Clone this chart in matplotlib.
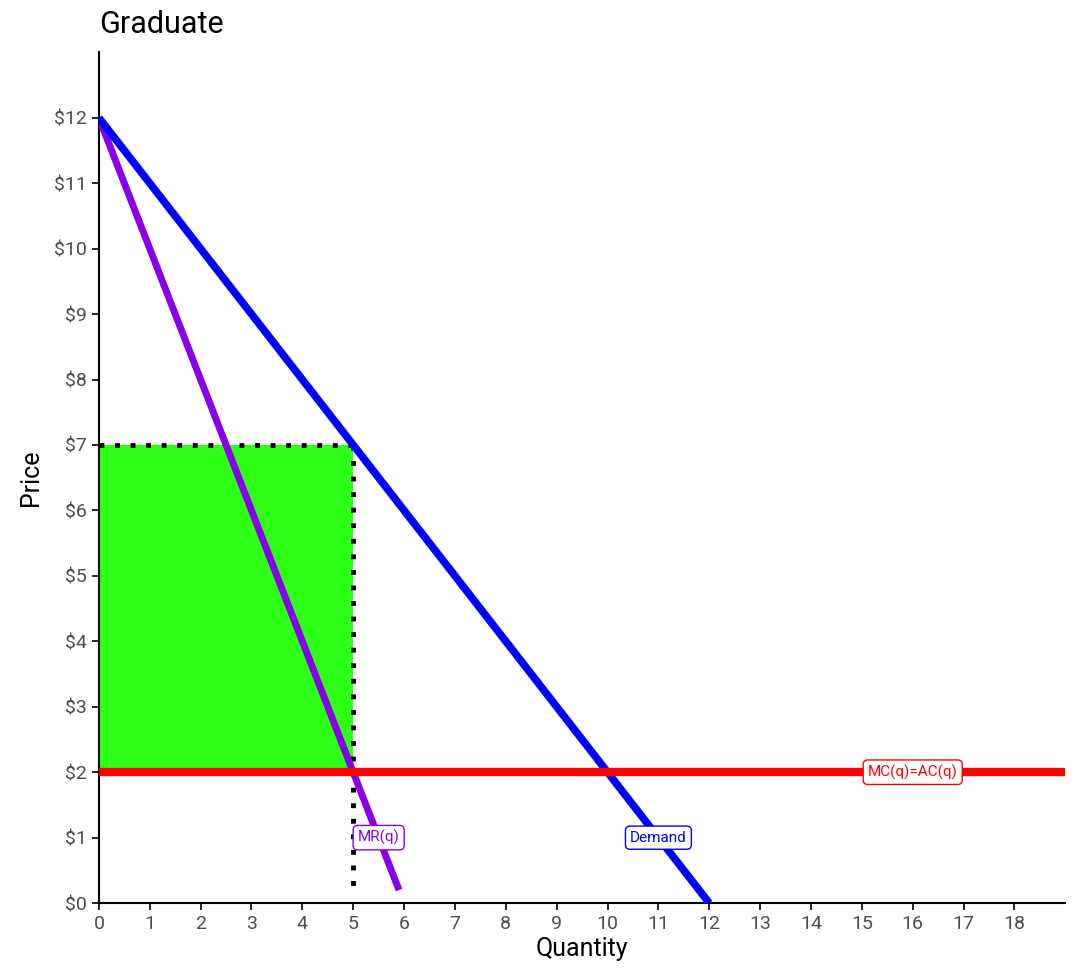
import matplotlib
matplotlib.use("Agg")
import matplotlib.pyplot as plt
import numpy as np

plt.rcParams['font.family'] = ['Roboto', 'DejaVu Sans']

# data
demand_q = [0, 12]
demand_p = [12, 0]
mr_q = [0, 5.9]
mr_p = [12, 0.2]
mc_q = [0, 19]
mc_p = [2, 2]
q_star = 5
p_star = 7
mc_level = 2

x_ticks = list(range(0, 19))
y_ticks = list(range(0, 13))
y_labels = [f"${v}" for v in y_ticks]

labels = [
    ("MR(q)", 5.5, 1, "#8800E8"),
    ("Demand", 11, 1, "#0000FF"),
    ("MC(q)=AC(q)", 16, 2, "#FF0000"),
]

fig = plt.figure(figsize=(10.75, 9.69), dpi=100)
ax = fig.add_axes([0.092, 0.068, 0.899, 0.878])

# profit rectangle
ax.fill_between([0, q_star], mc_level, p_star, color="#2EFF17", lw=0, zorder=1)
ax.plot([0, q_star], [p_star, p_star], color="black", lw=3.5, ls=(0, (1, 2.2)), zorder=2)
ax.plot([q_star, q_star], [p_star, 0.15], color="black", lw=3.5, ls=(0, (1, 2.2)), zorder=2)

ax.plot(mr_q, mr_p, color="#8800E8", lw=5, solid_capstyle="butt", zorder=3)
ax.plot(demand_q, demand_p, color="#0000FF", lw=5.5, solid_capstyle="butt", zorder=4)
ax.plot(mc_q, mc_p, color="#FF0000", lw=6, solid_capstyle="butt", zorder=5)

for txt, x, y, c in labels:
    ax.text(x, y, txt, color=c, fontsize=11, ha="center", va="center", zorder=6,
            bbox=dict(boxstyle="round,pad=0.3,rounding_size=0.3", fc="white", ec=c, lw=1))

ax.set_xlim(0, 19)
ax.set_ylim(0, 13)
ax.set_xticks(x_ticks)
ax.set_yticks(y_ticks)
ax.set_yticklabels(y_labels)
ax.tick_params(labelsize=14, labelcolor="#4D4D4D", length=5, width=1.2)
for s in ["top", "right"]:
    ax.spines[s].set_visible(False)
for s in ["left", "bottom"]:
    ax.spines[s].set_linewidth(1.5)

ax.set_xlabel("Quantity", fontsize=18, labelpad=3)
ax.set_ylabel("Price", fontsize=18, labelpad=8)
ax.set_title("Graduate", fontsize=22, loc="left", pad=14)

fig.savefig("out.png", dpi=100)
